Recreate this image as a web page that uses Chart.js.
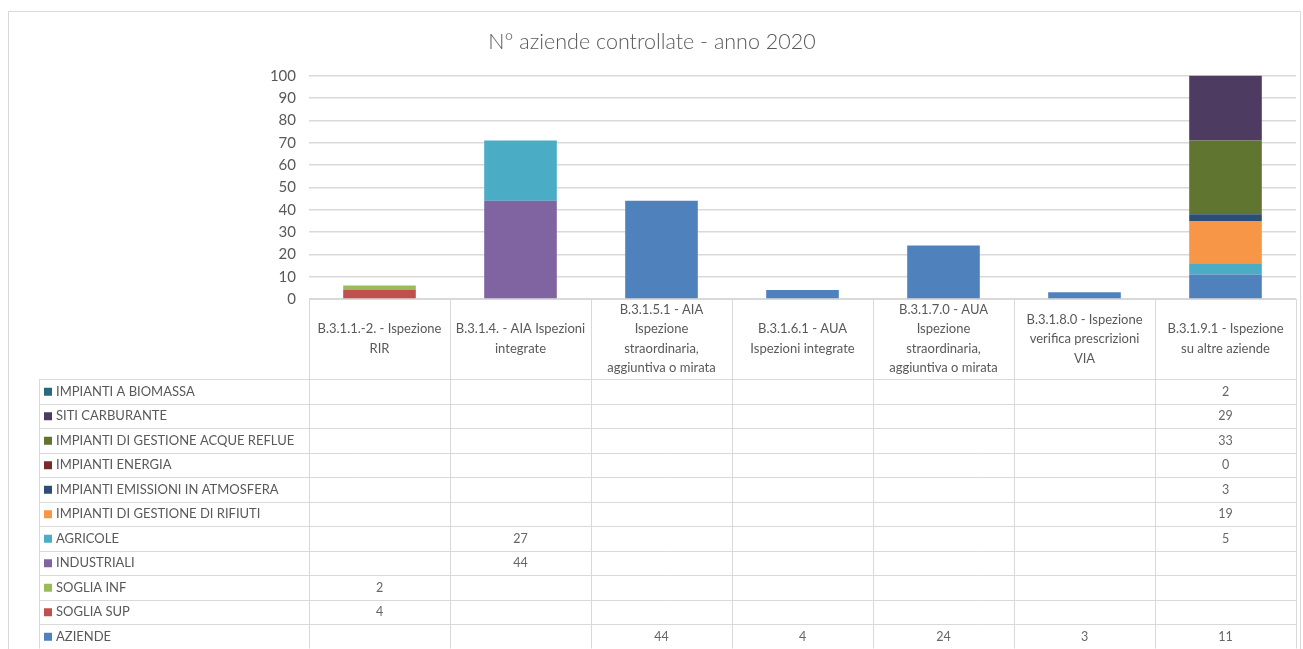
<!DOCTYPE html>
<html>
<head>
<meta charset="utf-8">
<script src="https://cdn.jsdelivr.net/npm/chart.js@4/dist/chart.umd.min.js"></script>
<style>
  html, body { margin: 0; padding: 0; background: #fff; }
  #wrap { width: 1303px; height: 649px; position: relative; }
</style>
</head>
<body>
<div id="wrap"><canvas id="chart" width="1303" height="649"></canvas></div>
<script>
// Categorie (intestazione della tabella dati, su più righe)
const categorie = [
  ['B.3.1.1.-2. - Ispezione', 'RIR'],
  ['B.3.1.4. - AIA Ispezioni', 'integrate'],
  ['B.3.1.5.1 - AIA', 'Ispezione', 'straordinaria,', 'aggiuntiva o mirata'],
  ['B.3.1.6.1 - AUA', 'Ispezioni integrate'],
  ['B.3.1.7.0 - AUA', 'Ispezione', 'straordinaria,', 'aggiuntiva o mirata'],
  ['B.3.1.8.0 - Ispezione', 'verifica prescrizioni', 'VIA'],
  ['B.3.1.9.1 - Ispezione', 'su altre aziende']
];

// Serie (ordine di impilamento, dal basso verso l'alto)
const aziende        = [null, null, 44, 4, 24, 3, 11];
const sogliaSup      = [4, null, null, null, null, null, null];
const sogliaInf      = [2, null, null, null, null, null, null];
const industriali    = [null, 44, null, null, null, null, null];
const agricole       = [null, 27, null, null, null, null, 5];
const rifiuti        = [null, null, null, null, null, null, 19];
const emissioni      = [null, null, null, null, null, null, 3];
const energia        = [null, null, null, null, null, null, 0];
const acqueReflue    = [null, null, null, null, null, null, 33];
const sitiCarburante = [null, null, null, null, null, null, 29];
const biomassa       = [null, null, null, null, null, null, 2];

const yTicks = [0, 10, 20, 30, 40, 50, 60, 70, 80, 90, 100];

const serie = [
  { label: 'AZIENDE', data: aziende, color: '#4F81BD' },
  { label: 'SOGLIA SUP', data: sogliaSup, color: '#C0504D' },
  { label: 'SOGLIA INF', data: sogliaInf, color: '#9BBB59' },
  { label: 'INDUSTRIALI', data: industriali, color: '#8064A2' },
  { label: 'AGRICOLE', data: agricole, color: '#4BACC6' },
  { label: 'IMPIANTI DI GESTIONE DI RIFIUTI', data: rifiuti, color: '#F79646' },
  { label: 'IMPIANTI EMISSIONI IN ATMOSFERA', data: emissioni, color: '#2C4D75' },
  { label: 'IMPIANTI ENERGIA', data: energia, color: '#772C2A' },
  { label: 'IMPIANTI DI GESTIONE ACQUE REFLUE', data: acqueReflue, color: '#5F7530' },
  { label: 'SITI CARBURANTE', data: sitiCarburante, color: '#4D3B62' },
  { label: 'IMPIANTI A BIOMASSA', data: biomassa, color: '#276A7C' }
];

const FONT = 'Lato, "Open Sans", sans-serif';
const GRIGIO = '#D9D9D9';
const TESTO = '#595959';

// Cornice esterna
const cornice = {
  id: 'cornice',
  beforeDraw(chart) {
    const ctx = chart.ctx;
    ctx.save();
    ctx.strokeStyle = GRIGIO;
    ctx.lineWidth = 1;
    ctx.strokeRect(8.5, 11.5, 1292, 700);
    ctx.restore();
  }
};

// Tabella dati sotto il grafico, colonne prese dalla scala x
const tabellaDati = {
  id: 'tabellaDati',
  afterDraw(chart) {
    const ctx = chart.ctx;
    const x = chart.scales.x;
    const area = chart.chartArea;
    const colW = x.getPixelForValue(1) - x.getPixelForValue(0);
    const top = area.bottom;
    const headH = 80;
    const rowH = 24.5;
    const legLeft = 39;
    const righe = serie.slice().reverse();
    const bottom = top + headH + righe.length * rowH;

    ctx.save();
    ctx.strokeStyle = GRIGIO;
    ctx.lineWidth = 1;
    ctx.beginPath();
    // bordo superiore intestazione
    ctx.moveTo(area.left, top + 0.5);
    ctx.lineTo(area.right, top + 0.5);
    // linee verticali delle colonne
    for (let i = 0; i <= categorie.length; i++) {
      const px = Math.round(x.getPixelForValue(i) - colW / 2) + 0.5;
      ctx.moveTo(px, top);
      ctx.lineTo(px, bottom);
    }
    // colonna legenda
    ctx.moveTo(legLeft + 0.5, top + headH);
    ctx.lineTo(legLeft + 0.5, bottom);
    // righe orizzontali
    for (let r = 0; r <= righe.length; r++) {
      const py = Math.round(top + headH + r * rowH) + 0.5;
      ctx.moveTo(legLeft, py);
      ctx.lineTo(area.right, py);
    }
    ctx.stroke();

    // intestazioni
    ctx.fillStyle = TESTO;
    ctx.font = '13px ' + FONT;
    ctx.textAlign = 'center';
    ctx.textBaseline = 'middle';
    const lh = 19.5;
    categorie.forEach((linee, i) => {
      const cx = x.getPixelForValue(i);
      const cy = top + headH / 2;
      linee.forEach((t, k) => {
        ctx.fillText(t, cx, cy + (k - (linee.length - 1) / 2) * lh);
      });
    });

    // righe con chiave colore, etichetta e valori
    righe.forEach((s, r) => {
      const cy = top + headH + r * rowH + rowH / 2 + 0.5;
      ctx.fillStyle = s.color;
      ctx.fillRect(44, cy - 4, 8, 8);
      ctx.fillStyle = TESTO;
      ctx.textAlign = 'left';
      ctx.font = '13px ' + FONT;
      ctx.fillText(s.label, 56, cy);
      ctx.textAlign = 'center';
      ctx.font = '12.5px ' + FONT;
      ctx.fillStyle = '#666';
      s.data.forEach((v, i) => {
        if (v !== null) ctx.fillText(String(v), x.getPixelForValue(i), cy);
      });
    });
    ctx.restore();
  }
};

new Chart(document.getElementById('chart'), {
  type: 'bar',
  data: {
    labels: categorie,
    datasets: serie.map(s => ({
      label: s.label,
      data: s.data,
      backgroundColor: s.color,
      borderWidth: 0,
      barPercentage: 0.515,
      categoryPercentage: 1
    }))
  },
  options: {
    responsive: false,
    animation: false,
    layout: { padding: { left: 8, right: 7, top: 0, bottom: 350 } },
    plugins: {
      legend: { display: false },
      tooltip: { enabled: false },
      title: {
        display: true,
        text: 'N° aziende controllate - anno 2020',
        color: TESTO,
        font: { family: FONT, size: 21.5, weight: 300 },
        padding: { top: 29, bottom: 21 }
      }
    },
    scales: {
      x: { stacked: true, display: false },
      y: {
        stacked: true,
        min: 0,
        max: 100,
        afterFit(scale) { scale.width = 301; },
        afterBuildTicks(scale) { scale.ticks = yTicks.map(v => ({ value: v })); },
        ticks: { color: TESTO, font: { family: FONT, size: 15 }, padding: 13 },
        grid: { color: GRIGIO, drawTicks: false, lineWidth: 1.5 },
        border: { display: false }
      }
    }
  },
  plugins: [cornice, tabellaDati]
});
</script>
</body>
</html>
